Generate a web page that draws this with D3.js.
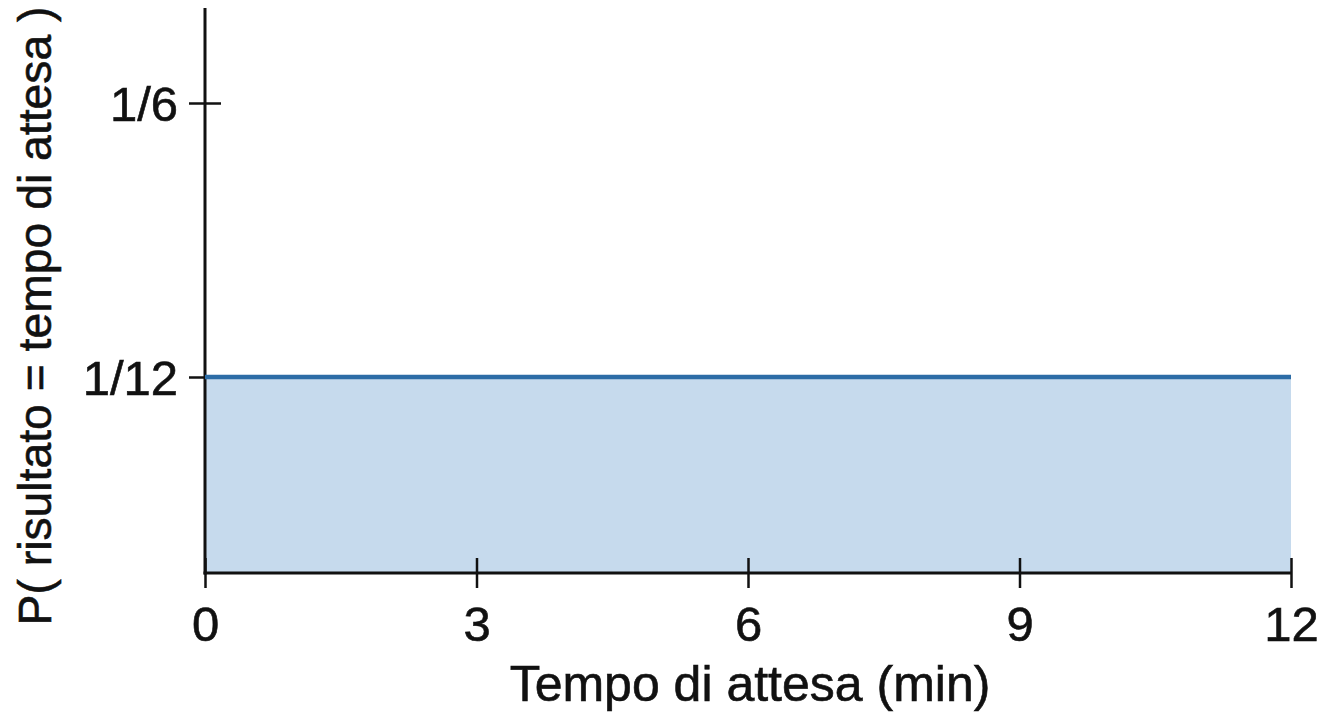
<!DOCTYPE html>
<html>
<head>
<meta charset="utf-8">
<script src="https://cdn.jsdelivr.net/npm/d3@7"></script>
<style>
  html, body { margin: 0; padding: 0; background: #fff; }
  svg { display: block; font-family: "Liberation Sans", Arial, sans-serif; }
</style>
</head>
<body>
<svg id="chart" width="1331" height="726"></svg>
<script>
// Data
const xTicks = [0, 3, 6, 9, 12];
const xTickLabels = ["0", "3", "6", "9", "12"];
const yTicks = [1/12, 1/6];
const yTickLabels = ["1/12", "1/6"];
const densityX = [0, 12];
const densityY = [1/12, 1/12];
const xTitle = "Tempo di attesa (min)";
const yTitle = "P( risultato = tempo di attesa )";

(function () {
const svg = d3.select("#chart");
const mLeft = 205, mRight = 1291, mBottom = 573, mTop = 8;

const x = d3.scaleLinear().domain([0, 12]).range([mLeft, mRight]);
const y = d3.scaleLinear().domain([0, 1/6]).range([651, 103]);

const pts = densityX.map((d, i) => ({x: d, y: densityY[i]}));

// Area fill
svg.append("path")
  .datum(pts)
  .attr("fill", "#c6daed")
  .attr("d", d3.area().x(d => x(d.x)).y0(mBottom).y1(d => y(d.y)));

// Y axis
const yAxis = svg.append("g")
  .attr("transform", `translate(${mLeft},0)`)
  .call(d3.axisLeft(y).tickValues(yTicks).tickFormat((d, i) => yTickLabels[i]).tickSize(0).tickPadding(27));
yAxis.select(".domain").remove();
yAxis.selectAll(".tick line").attr("x1", -16).attr("x2", 16).attr("stroke", "#111").attr("stroke-width", 2.5);
yAxis.selectAll(".tick text").attr("font-size", 49).attr("fill", "#111").attr("dy", "0.36em")
  .attr("stroke", "#111").attr("stroke-width", 0.6)
  .attr("font-family", "Liberation Sans, Arial, sans-serif");
svg.append("line").attr("x1", mLeft).attr("x2", mLeft).attr("y1", mTop).attr("y2", mBottom + 1.5)
  .attr("stroke", "#111").attr("stroke-width", 3);

// X axis
const xAxis = svg.append("g")
  .attr("transform", `translate(0,${mBottom})`)
  .call(d3.axisBottom(x).tickValues(xTicks).tickFormat((d, i) => xTickLabels[i]).tickSize(0).tickPadding(33));
xAxis.select(".domain").remove();
xAxis.selectAll(".tick line").attr("y1", -15).attr("y2", 15).attr("stroke", "#111").attr("stroke-width", 2.5);
xAxis.selectAll(".tick text").attr("font-size", 49).attr("fill", "#111")
  .attr("stroke", "#111").attr("stroke-width", 0.6)
  .attr("font-family", "Liberation Sans, Arial, sans-serif");
svg.append("line").attr("x1", mLeft - 1.5).attr("x2", mRight).attr("y1", mBottom).attr("y2", mBottom)
  .attr("stroke", "#111").attr("stroke-width", 3);

// Density line
svg.append("path")
  .datum(pts)
  .attr("fill", "none")
  .attr("stroke", "#2c6ca6")
  .attr("stroke-width", 4.5)
  .attr("d", d3.line().x(d => x(d.x)).y(d => y(d.y)));

// Titles
svg.append("text")
  .attr("x", 750).attr("y", 701)
  .attr("text-anchor", "middle").attr("font-size", 50).attr("fill", "#111")
  .attr("stroke", "#111").attr("stroke-width", 0.6)
  .text(xTitle);
svg.append("text")
  .attr("transform", `translate(51,316) rotate(-90)`)
  .attr("text-anchor", "middle").attr("font-size", 46.3).attr("fill", "#111")
  .attr("stroke", "#111").attr("stroke-width", 0.6)
  .text(yTitle);
})();
</script>
</body>
</html>
